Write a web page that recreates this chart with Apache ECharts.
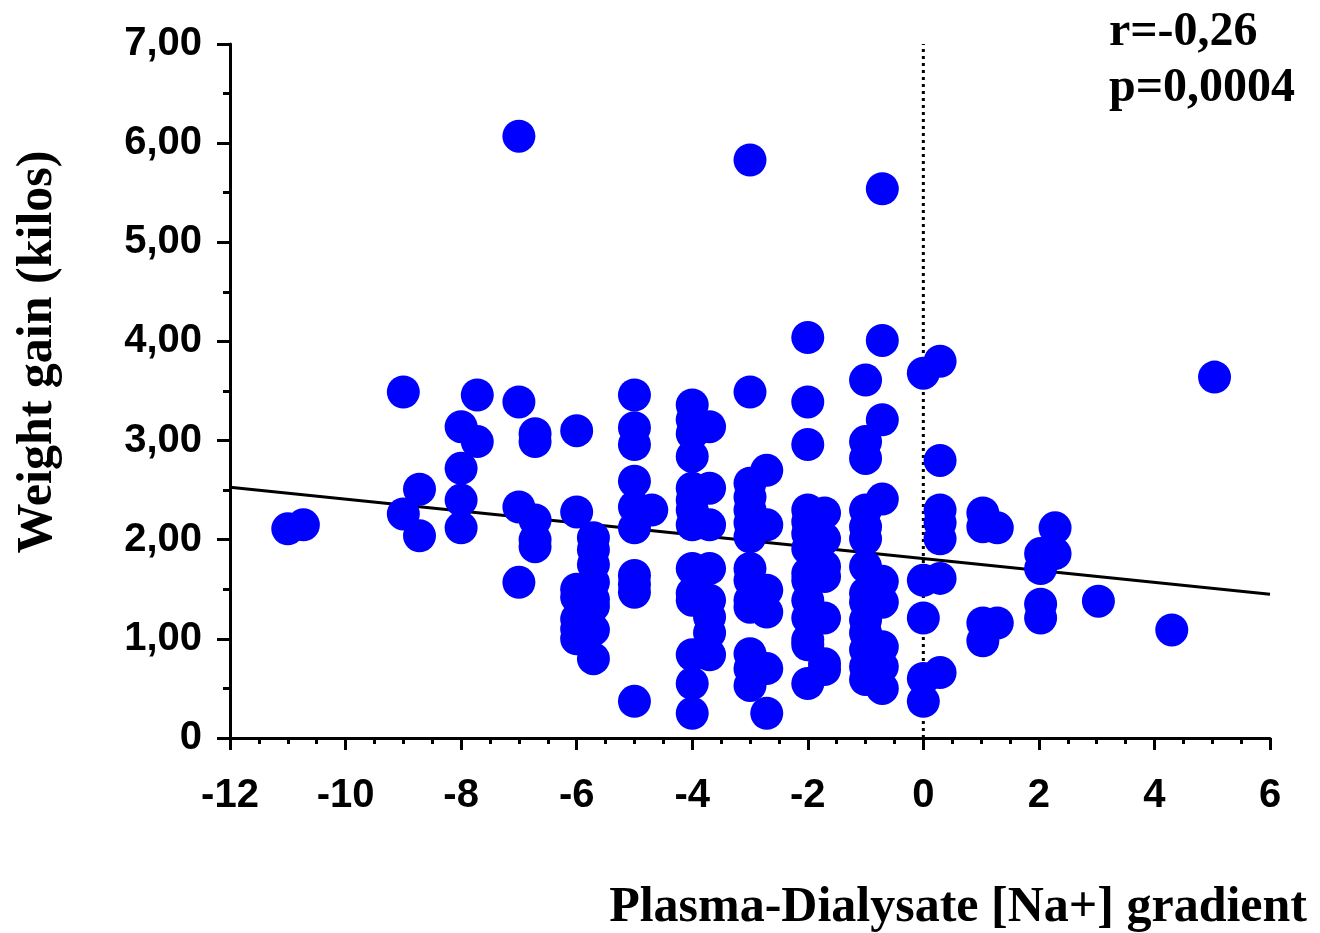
<!DOCTYPE html>
<html>
<head>
    <meta charset="UTF-8">
    <title>Weight gain vs Na+ gradient</title>
    <script src="https://cdn.jsdelivr.net/npm/echarts@6/dist/echarts.min.js"></script>
    <style>
        html, body { margin: 0; padding: 0; background: #fff; }
        #chart { width: 1320px; height: 933px; }
    </style>
</head>
<body>
    <div id="chart"></div>
    <script>
        // plasma-dialysate gradient (x) and weight gain in kilos (y)
        const points = [
            [-11, 2.11], [-10.73, 2.15],
            [-9, 3.49], [-9, 2.26], [-8.72, 2.51], [-8.72, 2.04],
            [-8, 3.14], [-8, 2.72], [-8, 2.40], [-8, 2.12],
            [-7.72, 3.46], [-7.72, 2.99],
            [-7, 6.07], [-7, 3.39], [-7, 2.33], [-7, 1.57],
            [-6.72, 3.07], [-6.72, 2.99], [-6.72, 2.20], [-6.72, 2.00], [-6.72, 1.93],
            [-6, 3.10], [-6, 2.28], [-6, 1.50], [-6, 1.42], [-6, 1.20], [-6, 1.10], [-6, 1.00],
            [-5.71, 2.02], [-5.71, 1.90], [-5.71, 1.75], [-5.71, 1.57], [-5.71, 1.40], [-5.71, 1.33], [-5.71, 1.09], [-5.71, 0.80],
            [-5, 3.46], [-5, 3.13], [-5, 2.96], [-5, 2.59], [-5, 2.33], [-5, 2.12], [-5, 1.64], [-5, 1.55], [-5, 1.47], [-5, 0.37],
            [-4.7, 2.30],
            [-4, 3.36], [-4, 3.21], [-4, 3.07], [-4, 2.84], [-4, 2.52], [-4, 2.40], [-4, 2.30], [-4, 2.15],
            [-4, 1.71], [-4, 1.46], [-4, 1.39], [-4, 0.84], [-4, 0.55], [-4, 0.25],
            [-3.7, 3.14], [-3.7, 2.52], [-3.7, 2.15], [-3.7, 1.71], [-3.7, 1.39], [-3.7, 1.22], [-3.7, 1.06], [-3.7, 0.84],
            [-3, 5.83], [-3, 3.49], [-3, 2.57], [-3, 2.43], [-3, 2.30], [-3, 2.17], [-3, 2.03], [-3, 1.71],
            [-3, 1.59], [-3, 1.39], [-3, 1.32], [-3, 0.85], [-3, 0.70], [-3, 0.53],
            [-2.71, 2.70], [-2.71, 2.15], [-2.71, 1.49], [-2.71, 1.27], [-2.71, 0.70], [-2.71, 0.25],
            [-2, 4.04], [-2, 3.39], [-2, 2.96], [-2, 2.30], [-2, 2.18], [-2, 2.06], [-2, 1.91], [-2, 1.66],
            [-2, 1.59], [-2, 1.39], [-2, 1.21], [-2, 0.99], [-2, 0.94], [-2, 0.55],
            [-1.71, 2.27], [-1.71, 2.01], [-1.71, 1.73], [-1.71, 1.63], [-1.71, 1.21], [-1.71, 0.75], [-1.71, 0.69],
            [-1, 3.61], [-1, 2.99], [-1, 2.82], [-1, 2.30], [-1, 2.13], [-1, 2.01], [-1, 1.73], [-1, 1.46],
            [-1, 1.37], [-1, 1.19], [-1, 1.06], [-1, 0.89], [-1, 0.72], [-1, 0.59],
            [-0.71, 5.54], [-0.71, 4.01], [-0.71, 3.21], [-0.71, 2.41], [-0.71, 1.58], [-0.71, 1.37], [-0.71, 0.92], [-0.71, 0.72], [-0.71, 0.50],
            [0, 3.68], [0, 1.59], [0, 1.21], [0, 0.60], [0, 0.37],
            [0.29, 3.80], [0.29, 2.80], [0.29, 2.30], [0.29, 2.17], [0.29, 2.01], [0.29, 1.61], [0.29, 0.66],
            [1.03, 2.27], [1.03, 2.13], [1.03, 1.16], [1.03, 0.98],
            [1.28, 2.12], [1.28, 1.16],
            [2.03, 1.86], [2.03, 1.71], [2.03, 1.35], [2.03, 1.21],
            [2.28, 2.12], [2.28, 1.86],
            [3.03, 1.38], [4.30, 1.09], [5.04, 3.64]
        ];

        // regression line end points and the zero-gradient reference line
        const fitLine = [[-12, 2.53], [6, 1.45]];
        const zeroLine = [[0, 0], [0, 7]];

        const statsText = ['r=-0,26', 'p=0,0004'];
        const xTitle = 'Plasma-Dialysate [Na+] gradient';
        const yTitle = 'Weight gain (kilos)';

        const chart = echarts.init(document.getElementById('chart'));

        const axisFont = {
            color: '#000',
            fontFamily: '"Liberation Sans", Arial, sans-serif',
            fontWeight: 'bold',
            fontSize: 40
        };

        const option = {
            animation: false,
            backgroundColor: '#fff',
            grid: { left: 230, right: 50, top: 44, bottom: 195 },
            title: [{
                text: statsText.join('\n'),
                right: 20,
                top: 0,
                textStyle: {
                    fontFamily: '"Liberation Serif", "Times New Roman", serif',
                    fontWeight: 'bold',
                    fontSize: 48,
                    lineHeight: 56,
                    color: '#000'
                }
            }, {
                text: xTitle,
                right: 8,
                top: 878,
                textStyle: {
                    fontFamily: '"Liberation Serif", "Times New Roman", serif',
                    fontWeight: 'bold',
                    fontSize: 50,
                    color: '#000'
                }
            }],
            graphic: [{
                type: 'text',
                x: 38,
                y: 352,
                rotation: Math.PI / 2,
                style: {
                    text: yTitle,
                    font: 'bold 50px "Liberation Serif", "Times New Roman", serif',
                    fill: '#000',
                    align: 'center',
                    verticalAlign: 'middle',
                    textAlign: 'center',
                    textVerticalAlign: 'middle'
                }
            }],
            xAxis: {
                type: 'value',
                min: -12,
                max: 6,
                interval: 2,
                splitLine: { show: false },
                axisLine: { onZero: false, lineStyle: { color: '#000', width: 3 } },
                axisTick: { length: 12, lineStyle: { color: '#000', width: 3 } },
                minorTick: { show: true, splitNumber: 4, length: 6, lineStyle: { color: '#000', width: 3 } },
                axisLabel: Object.assign({ margin: 38 }, axisFont)
            },
            yAxis: {
                type: 'value',
                min: 0,
                max: 7,
                interval: 1,
                splitLine: { show: false },
                axisLine: { onZero: false, lineStyle: { color: '#000', width: 3 } },
                axisTick: { length: 13, lineStyle: { color: '#000', width: 3 } },
                minorTick: { show: true, splitNumber: 2, length: 7, lineStyle: { color: '#000', width: 3 } },
                axisLabel: Object.assign({
                    margin: 28,
                    formatter: v => v === 0 ? '0' : v.toFixed(2).replace('.', ',')
                }, axisFont)
            },
            series: [{
                type: 'line',
                data: zeroLine,
                symbol: 'none',
                z: 1,
                lineStyle: { color: '#000', width: 3, type: [3, 4] }
            }, {
                type: 'line',
                data: fitLine,
                symbol: 'none',
                z: 1,
                lineStyle: { color: '#000', width: 3 }
            }, {
                type: 'scatter',
                data: points,
                symbol: 'circle',
                symbolSize: 33,
                z: 3,
                itemStyle: { color: '#0000ff', opacity: 1 }
            }]
        };

        chart.setOption(option);
    </script>
</body>
</html>
